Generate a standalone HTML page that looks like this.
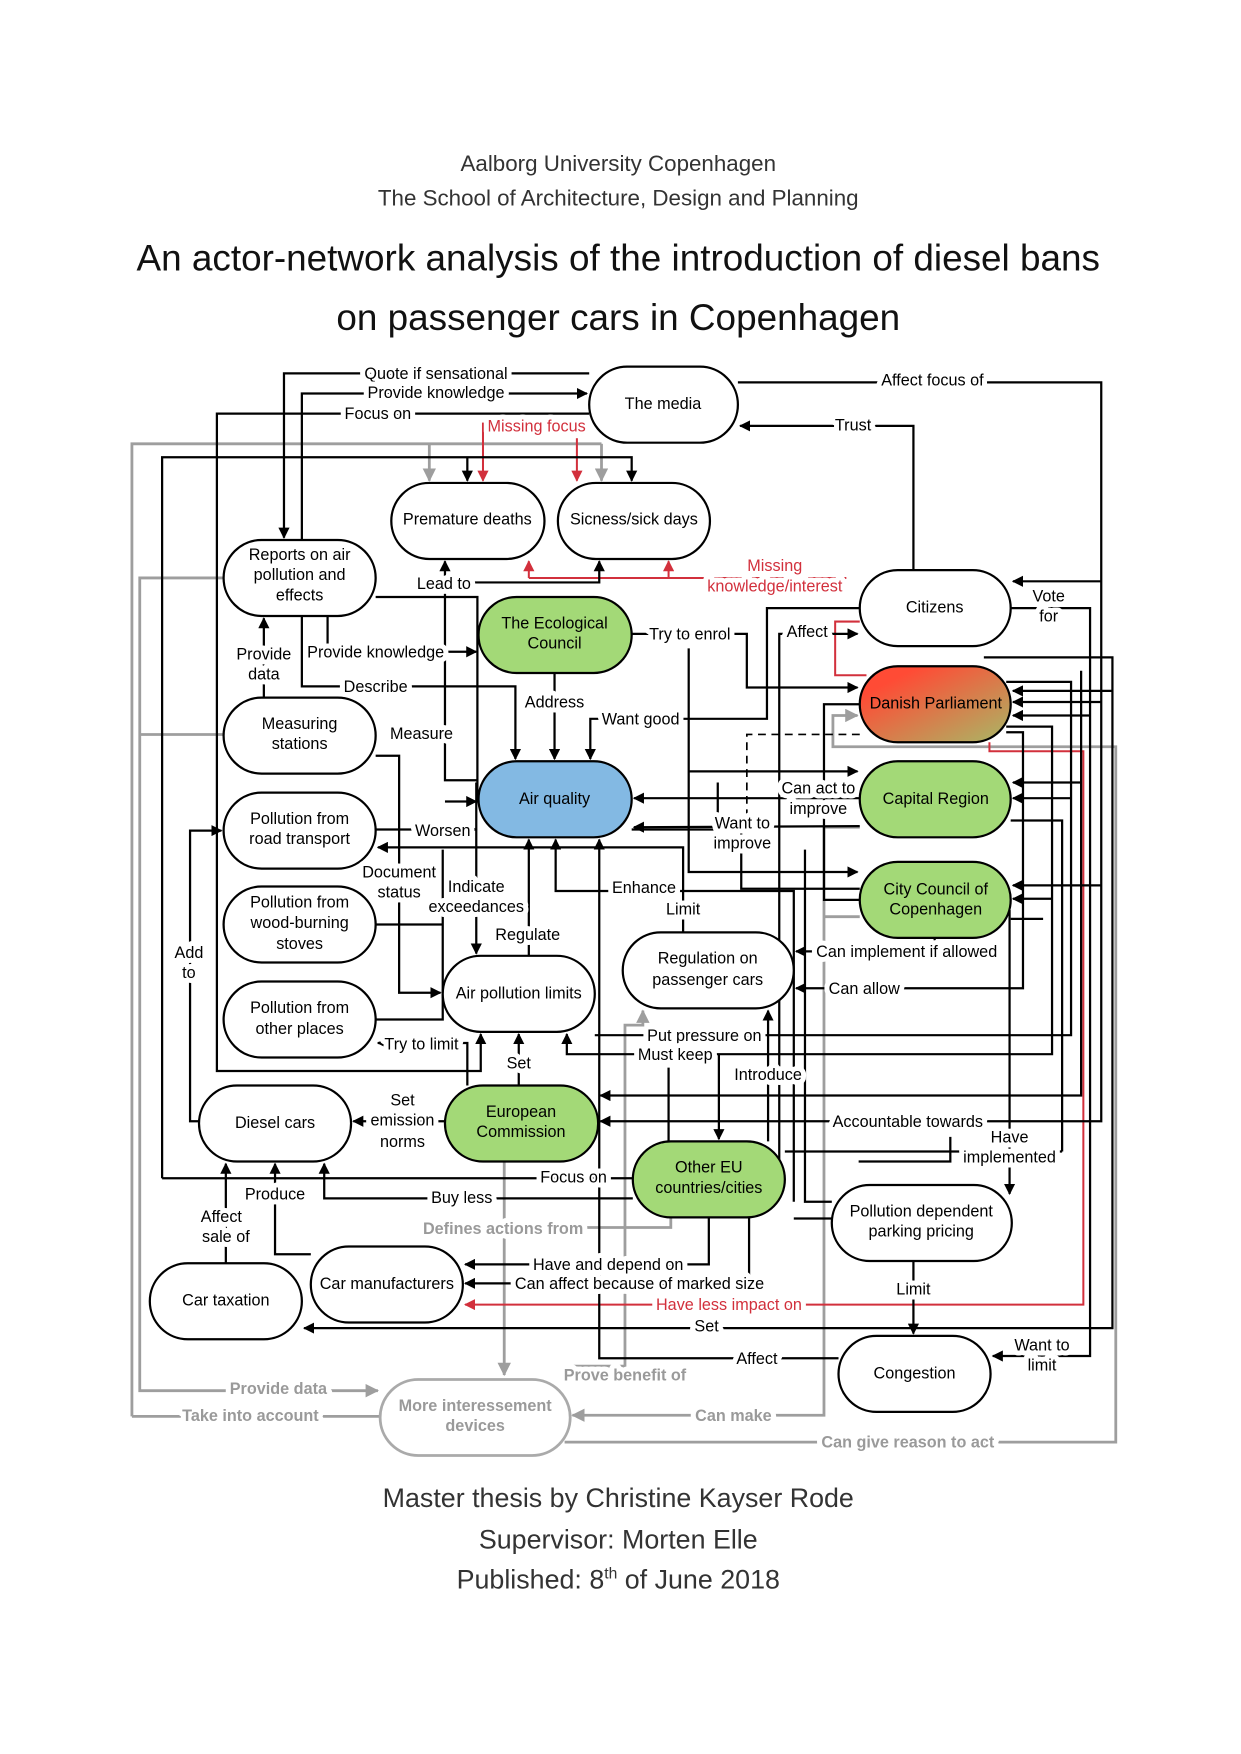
<!DOCTYPE html>
<html><head><meta charset="utf-8"><style>
html,body{margin:0;padding:0;background:#fff;}
svg{display:block;}
.n{fill:#fff;stroke:#000;stroke-width:2;}
.g{fill:#a3d977;}
.l{fill:none;stroke:#000;stroke-width:2;}
.lg{fill:none;stroke:#9e9e9e;stroke-width:2.5;}
.lr{fill:none;stroke:#d2303c;stroke-width:1.8;}
text{font-family:"Liberation Sans",sans-serif;font-size:14.5px;text-anchor:middle;}
.e{paint-order:stroke;stroke:#fff;stroke-width:9px;stroke-linejoin:round;}
.gt{fill:#9a9a9a;font-weight:bold;}
.rt{fill:#d2303c;}
.hd{font-size:20px;fill:#333;}
.tt{font-size:33px;fill:#111;}
.ft{font-size:24px;fill:#333;}
</style></head><body>
<svg width="1241" height="1754" viewBox="0 0 1110 1569" preserveAspectRatio="none" xmlns="http://www.w3.org/2000/svg">
<defs>
<marker id="a" markerWidth="10" markerHeight="10" refX="9" refY="5" orient="auto" markerUnits="userSpaceOnUse"><path d="M0,0 L10,5 L0,10 z" fill="#000"/></marker>
<marker id="ag" markerWidth="12" markerHeight="12" refX="11" refY="6" orient="auto" markerUnits="userSpaceOnUse"><path d="M0,0 L12,6 L0,12 z" fill="#9e9e9e"/></marker>
<marker id="ar" markerWidth="10" markerHeight="10" refX="9" refY="5" orient="auto" markerUnits="userSpaceOnUse"><path d="M0,0 L10,5 L0,10 z" fill="#d2303c"/></marker>
<linearGradient id="dp" x1="0" y1="0" x2="1" y2="1"><stop offset="0.2" stop-color="#ff4b35"/><stop offset="1" stop-color="#a8b866"/></linearGradient>
</defs>

<text x="553" y="153" class="hd">Aalborg University Copenhagen</text>
<text x="553" y="184" class="hd">The School of Architecture, Design and Planning</text>
<text x="553" y="242" class="tt">An actor-network analysis of the introduction of diesel bans</text>
<text x="553" y="295" class="tt">on passenger cars in Copenhagen</text>
<text x="553" y="1348" class="ft">Master thesis by Christine Kayser Rode</text>
<text x="553" y="1385" class="ft">Supervisor: Morten Elle</text>
<text x="553" y="1421" class="ft">Published: 8<tspan dy="-9" font-size="14">th</tspan><tspan dy="9"> of June 2018</tspan></text>

<g class="lg">
<polyline points="118,1267 118,397 538,397"/>
<polyline points="384,397 384,430" marker-end="url(#ag)"/>
<polyline points="538,397 538,430" marker-end="url(#ag)"/>
<polyline points="200,517 125,517 125,1244 338,1244" marker-end="url(#ag)"/>
<polyline points="200,657 125,657"/>
<polyline points="118,1267 340,1267"/>
<polyline points="451,1039 451,1230" marker-end="url(#ag)"/>
<polyline points="600,1089 600,1098 451,1098"/>
<polyline points="508,1222 559,1222 559,917 575,917 575,904" marker-end="url(#ag)"/>
<polyline points="769,740 737,740 737,1266 512,1266" marker-end="url(#ag)"/>
<polyline points="769,820 737,820"/>
<polyline points="505,1290 998,1290 998,668 745,668 745,640 767,640" marker-end="url(#ag)"/>
</g>

<g class="lr">
<polyline points="432,378 432,430" marker-end="url(#ar)"/>
<polyline points="516,392 516,430" marker-end="url(#ar)"/>
<polyline points="473,517 473,502" marker-end="url(#ar)"/>
<polyline points="473,517 757,517"/>
<polyline points="598,517 598,502" marker-end="url(#ar)"/>
<polyline points="769,556 747,556 747,604 775,604"/>
<polyline points="885,664 885,672 969,672 969,1167 416,1167" marker-end="url(#ar)"/>
</g>

<g class="l">
<polyline points="527,334 254,334 254,481" marker-end="url(#a)"/>
<polyline points="270,483 270,352 525,352" marker-end="url(#a)"/>
<polyline points="527,370 194,370 194,958 430,958 430,925" marker-end="url(#a)"/>
<polyline points="145,1054 145,409 565,409 565,430" marker-end="url(#a)"/>
<polyline points="418,409 418,430" marker-end="url(#a)"/>
<polyline points="428,698 398,698 398,502" marker-end="url(#a)"/>
<polyline points="398,521 536,521 536,502" marker-end="url(#a)"/>
<polyline points="336,534 427,534 427,717 426,717" />
<polyline points="398,717 426,717" marker-end="url(#a)"/>
<polyline points="293,551 293,583 426,583" marker-end="url(#a)"/>
<polyline points="270,551 270,614 461,614 461,679" marker-end="url(#a)"/>
<polyline points="236,624 236,553" marker-end="url(#a)"/>
<polyline points="496,602 496,679" marker-end="url(#a)"/>
<polyline points="769,544 686,544 686,643 528,643 528,679" marker-end="url(#a)"/>
<polyline points="565,567 668,567 668,615 767,615" marker-end="url(#a)"/>
<polyline points="697,1068 697,567 767,567" marker-end="url(#a)"/>
<polyline points="660,342 985,342 985,1003 537,1003" marker-end="url(#a)"/>
<polyline points="985,520 906,520" marker-end="url(#a)"/>
<polyline points="817,510 817,381 662,381" marker-end="url(#a)"/>
<polyline points="904,544 975,544 975,1213 888,1213" marker-end="url(#a)"/>
<polyline points="880,588 995,588 995,1188 272,1188" marker-end="url(#a)"/>
<polyline points="967,600 967,980 537,980" marker-end="url(#a)"/>
<polyline points="995,618 906,618" marker-end="url(#a)"/>
<polyline points="985,628 906,628" marker-end="url(#a)"/>
<polyline points="975,640 906,640" marker-end="url(#a)"/>
<polyline points="900,610 958,610 958,926 532,926"/>
<polyline points="900,650 941,650 941,943 507,943 507,925" marker-end="url(#a)"/>
<polyline points="900,655 915,655 915,884 712,884" marker-end="url(#a)"/>
<polyline points="967,700 906,700" marker-end="url(#a)"/>
<polyline points="958,714 906,714" marker-end="url(#a)"/>
<polyline points="985,792 906,792" marker-end="url(#a)"/>
<polyline points="941,804 906,804" marker-end="url(#a)"/>
<polyline points="904,734 950,734 950,1030"/>
<polyline points="904,822 933,822"/>
<polyline points="904,815 903,815 903,1068" marker-end="url(#a)"/>
<polyline points="836,839 836,851 712,851" marker-end="url(#a)"/>
<polyline points="769,714 567,714" marker-end="url(#a)"/>
<polyline points="769,739 567,740" marker-end="url(#a)"/>
<polyline points="616,580 616,780 767,780" marker-end="url(#a)"/>
<polyline points="616,690 767,690" marker-end="url(#a)"/>
<polyline points="663,740 663,795 769,795"/>
<polyline points="769,630 737,630 737,805 769,805"/>
<polyline points="710,1075 710,797 497,797 497,751" marker-end="url(#a)"/>
<polyline points="744,1075 720,1075 720,760"/>
<polyline points="744,1090 710,1090"/>
<polyline points="611,834 611,758 338,758" marker-end="url(#a)"/>
<polyline points="336,742 426,742" marker-end="url(#a)"/>
<polyline points="565,742 642,742 642,700"/>
<polyline points="336,676 357,676 357,888 394,888" marker-end="url(#a)"/>
<polyline points="426,700 426,853" marker-end="url(#a)"/>
<polyline points="336,827 396,827"/>
<polyline points="396,760 396,912 336,912"/>
<polyline points="473,855 473,751" marker-end="url(#a)"/>
<polyline points="418,971 418,933 338,933" marker-end="url(#a)"/>
<polyline points="464,971 464,925" marker-end="url(#a)"/>
<polyline points="398,1003 316,1003" marker-end="url(#a)"/>
<polyline points="178,1003 170,1003 170,743 198,743" marker-end="url(#a)"/>
<polyline points="566,1054 145,1054"/>
<polyline points="566,1072 290,1072 290,1041" marker-end="url(#a)"/>
<polyline points="278,1122 246,1122 246,1041" marker-end="url(#a)"/>
<polyline points="202,1130 202,1041" marker-end="url(#a)"/>
<polyline points="634,1089 634,1131 416,1131" marker-end="url(#a)"/>
<polyline points="670,1089 670,1148 416,1148" marker-end="url(#a)"/>
<polyline points="817,1128 817,1193" marker-end="url(#a)"/>
<polyline points="750,1215 536,1215 536,751" marker-end="url(#a)"/>
<polyline points="598,955 598,1021"/>
<polyline points="643,943 643,1019" marker-end="url(#a)"/>
<polyline points="687,1021 687,904" marker-end="url(#a)"/>
<polyline points="702,1030 950,1030"/>
<polyline points="768,1039 850,1039 850,1017"/>
</g>
<polyline points="769,657 668,657 668,760" fill="none" stroke="#000" stroke-width="1.5" stroke-dasharray="7,5"/>

<rect class="n" x="527" y="328" width="133" height="68" rx="34"/>
<rect class="n" x="350" y="432" width="137" height="68" rx="34"/>
<rect class="n" x="499" y="432" width="136" height="68" rx="34"/>
<rect class="n" x="200" y="483" width="136" height="68" rx="34"/>
<rect class="n g" x="428" y="534" width="137" height="68" rx="34"/>
<rect class="n" x="769" y="510" width="135" height="68" rx="34"/>
<rect class="n" x="769" y="596" width="135" height="68" rx="34" style="fill:url(#dp)"/>
<rect class="n" x="200" y="624" width="136" height="68" rx="34"/>
<rect class="n" x="428" y="681" width="137" height="68" rx="34" style="fill:#83b9e3"/>
<rect class="n g" x="769" y="681" width="135" height="68" rx="34"/>
<rect class="n" x="200" y="709" width="136" height="68" rx="34"/>
<rect class="n g" x="769" y="771" width="135" height="68" rx="34"/>
<rect class="n" x="200" y="793" width="136" height="68" rx="34"/>
<rect class="n" x="557" y="834" width="153" height="68" rx="34"/>
<rect class="n" x="396" y="855" width="136" height="68" rx="34"/>
<rect class="n" x="200" y="878" width="136" height="68" rx="34"/>
<rect class="n" x="178" y="971" width="136" height="68" rx="34"/>
<rect class="n g" x="398" y="971" width="137" height="68" rx="34"/>
<rect class="n g" x="566" y="1021" width="136" height="68" rx="34"/>
<rect class="n" x="744" y="1060" width="161" height="68" rx="34"/>
<rect class="n" x="278" y="1115" width="136" height="68" rx="34"/>
<rect class="n" x="134" y="1130" width="136" height="68" rx="34"/>
<rect class="n" x="750" y="1195" width="136" height="68" rx="34"/>
<rect x="340" y="1234" width="170" height="68" rx="34" fill="#fff" stroke="#aaa" stroke-width="2.5"/>

<text x="593" y="366">The media</text>
<text x="418" y="469">Premature deaths</text>
<text x="567" y="469">Sicness/sick days</text>
<text x="268" y="501">Reports on air</text><text x="268" y="519">pollution and</text><text x="268" y="537">effects</text>
<text x="496" y="562">The Ecological</text><text x="496" y="580">Council</text>
<text x="836" y="548">Citizens</text>
<text x="837" y="634">Danish Parliament</text>
<text x="268" y="652">Measuring</text><text x="268" y="670">stations</text>
<text x="496" y="719">Air quality</text>
<text x="837" y="719">Capital Region</text>
<text x="268" y="737">Pollution from</text><text x="268" y="755">road transport</text>
<text x="837" y="800">City Council of</text><text x="837" y="818">Copenhagen</text>
<text x="268" y="812">Pollution from</text><text x="268" y="830">wood-burning</text><text x="268" y="849">stoves</text>
<text x="633" y="862">Regulation on</text><text x="633" y="881">passenger cars</text>
<text x="464" y="893">Air pollution limits</text>
<text x="268" y="906">Pollution from</text><text x="268" y="925">other places</text>
<text x="246" y="1009">Diesel cars</text>
<text x="466" y="999">European</text><text x="466" y="1017">Commission</text>
<text x="634" y="1049">Other EU</text><text x="634" y="1067">countries/cities</text>
<text x="824" y="1088">Pollution dependent</text><text x="824" y="1106">parking pricing</text>
<text x="346" y="1153">Car manufacturers</text>
<text x="202" y="1168">Car taxation</text>
<text x="818" y="1233">Congestion</text>
<text x="425" y="1262" class="gt">More interessement</text><text x="425" y="1280" class="gt">devices</text>

<g class="e">
<text x="390" y="339">Quote if sensational</text>
<text x="390" y="356">Provide knowledge</text>
<text x="338" y="375">Focus on</text>
<text x="480" y="386" class="rt">Missing focus</text>
<text x="834" y="345">Affect focus of</text>
<text x="763" y="385">Trust</text>
<text x="693" y="511" class="rt">Missing</text><text x="693" y="529" class="rt">knowledge/interest</text>
<text x="397" y="527">Lead to</text>
<text x="938" y="538">Vote</text><text x="938" y="556">for</text>
<text x="617" y="572">Try to enrol</text>
<text x="722" y="570">Affect</text>
<text x="236" y="590">Provide</text><text x="236" y="608">data</text>
<text x="336" y="588">Provide knowledge</text>
<text x="336" y="619">Describe</text>
<text x="496" y="633">Address</text>
<text x="573" y="648">Want good</text>
<text x="377" y="661">Measure</text>
<text x="732" y="710">Can act to</text><text x="732" y="728">improve</text>
<text x="664" y="741">Want to</text><text x="664" y="759">improve</text>
<text x="396" y="748">Worsen</text>
<text x="357" y="785">Document</text><text x="357" y="803">status</text>
<text x="426" y="798">Indicate</text><text x="426" y="816">exceedances</text>
<text x="576" y="799">Enhance</text>
<text x="611" y="818">Limit</text>
<text x="472" y="841">Regulate</text>
<text x="811" y="856">Can implement if allowed</text>
<text x="773" y="889">Can allow</text>
<text x="630" y="931">Put pressure on</text>
<text x="604" y="948">Must keep</text>
<text x="377" y="939">Try to limit</text>
<text x="464" y="956">Set</text>
<text x="687" y="966">Introduce</text>
<text x="360" y="989">Set</text><text x="360" y="1007">emission</text><text x="360" y="1026">norms</text>
<text x="812" y="1008">Accountable towards</text>
<text x="903" y="1022">Have</text><text x="903" y="1040">implemented</text>
<text x="169" y="857">Add</text><text x="169" y="875">to</text>
<text x="513" y="1058">Focus on</text>
<text x="413" y="1076">Buy less</text>
<text x="246" y="1073">Produce</text>
<text x="198" y="1093">Affect</text><text x="202" y="1111">sale of</text>
<text x="450" y="1104" class="gt">Defines actions from</text>
<text x="544" y="1136">Have and depend on</text>
<text x="572" y="1153">Can affect because of marked size</text>
<text x="652" y="1172" class="rt">Have less impact on</text>
<text x="817" y="1158">Limit</text>
<text x="632" y="1191">Set</text>
<text x="932" y="1208">Want to</text><text x="932" y="1226">limit</text>
<text x="677" y="1220">Affect</text>
<text x="559" y="1235" class="gt">Prove benefit of</text>
<text x="249" y="1247" class="gt">Provide data</text>
<text x="224" y="1271" class="gt">Take into account</text>
<text x="656" y="1271" class="gt">Can make</text>
<text x="812" y="1295" class="gt">Can give reason to act</text>
</g>
</svg>
</body></html>
